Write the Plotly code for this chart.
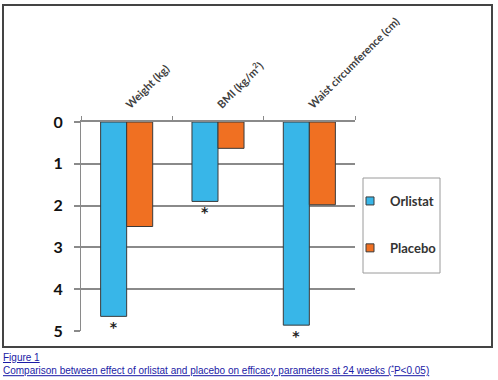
import plotly.graph_objects as go

# ---- data ----
categories = ["Weight (kg)", "BMI (kg/m<sup>2</sup>)", "Waist circumference (cm)"]
orlistat = [4.65, 1.9, 4.86]
placebo = [2.5, 0.63, 1.98]
orlistat_sig = ["*", "*", "*"]
y_ticks = [0, 1, 2, 3, 4, 5]
series_names = ["Orlistat", "Placebo"]
caption_title = "Figure 1"
caption_text = ("Comparison between effect of orlistat and placebo on efficacy "
                "parameters at 24 weeks (<sup>*</sup>P&lt;0.05)")

BLUE = "#38b6e8"
ORANGE = "#f07022"
EDGE = "#3a3a3a"
GRID = "#8a8a8a"
FONT = "Lato"

W, H = 498, 380
L, R, T, B = 81, 143, 122, 49
PW, PH = W - L - R, H - T - B


def px(x):
    return (x - L) / PW


def py(y):
    return (H - B - y) / PH


fig = go.Figure()
fig.add_trace(go.Bar(
    x=categories, y=orlistat, name=series_names[0], showlegend=False,
    marker=dict(color=BLUE, line=dict(color=EDGE, width=1)),
    text=orlistat_sig, textposition="outside", cliponaxis=False,
    textfont=dict(family="DejaVu Sans", size=14, color="#222", weight="bold"),
))
fig.add_trace(go.Bar(
    x=categories, y=placebo, name=series_names[1], showlegend=False,
    marker=dict(color=ORANGE, line=dict(color=EDGE, width=1)),
))
# legend entries
for name, col in zip(series_names, [BLUE, ORANGE]):
    fig.add_trace(go.Scatter(
        x=[None], y=[None], mode="markers", name=name, legendgroup=name,
        marker=dict(symbol="square", size=8, color=col, line=dict(color=EDGE, width=1)),
    ))

fig.update_layout(
    width=W, height=H,
    margin=dict(l=L, r=R, t=T, b=B, pad=0),
    paper_bgcolor="white", plot_bgcolor="white",
    barmode="group", bargap=0.43, bargroupgap=0,
    font=dict(family=FONT, color="#222"),
    showlegend=True,
    legend=dict(
        x=px(350), y=py(186), xanchor="left", yanchor="top",
        bgcolor="rgba(0,0,0,0)", borderwidth=0,
        traceorder="grouped", tracegroupgap=27, itemwidth=30,
        font=dict(family=FONT, size=13, color="#333", weight="bold"),
    ),
    xaxis=dict(
        side="top", type="category", tickson="boundaries",
        ticks="outside", ticklen=4, tickcolor=GRID, tickwidth=1,
        showline=True, linecolor=GRID, linewidth=1.5, showgrid=False,
        tickangle=-45, ticklabelstandoff=5,
        tickfont=dict(family=FONT, size=11, color="#404040", weight="bold"),
    ),
    yaxis=dict(
        range=[5, 0], tickvals=y_ticks, ticks="outside", ticklen=6,
        tickcolor=GRID, tickwidth=1.5,
        showline=True, linecolor=GRID, linewidth=1,
        showgrid=True, gridcolor=GRID, gridwidth=1.5, zeroline=False,
        ticklabelstandoff=8,
        tickfont=dict(family=FONT, size=16, color="#111", weight="bold"),
    ),
    shapes=[
        dict(type="rect", xref="paper", yref="paper",
             x0=px(3), x1=px(492), y0=py(347), y1=py(5),
             line=dict(color="#444", width=2), layer="below"),
        dict(type="rect", xref="paper", yref="paper",
             x0=px(363), x1=px(440), y0=py(273), y1=py(178),
             line=dict(color="#9a9a9a", width=1), layer="below"),
    ],
    annotations=[
        dict(text=caption_title, xref="paper", yref="paper",
             x=px(1), y=py(357), xanchor="left", yanchor="middle",
             showarrow=False,
             font=dict(family="Liberation Sans", size=10, color="#1a1aa6",
                       lineposition="under")),
        dict(text=caption_text, xref="paper", yref="paper",
             x=px(1), y=py(370), xanchor="left", yanchor="middle",
             showarrow=False,
             font=dict(family="Liberation Sans", size=10, color="#1a1aa6",
                       lineposition="under")),
    ],
)

fig.write_html(
    "out.html",
    config={"displayModeBar": False},
    post_script="document.body.style.margin='0';document.body.style.overflow='hidden';",
)
